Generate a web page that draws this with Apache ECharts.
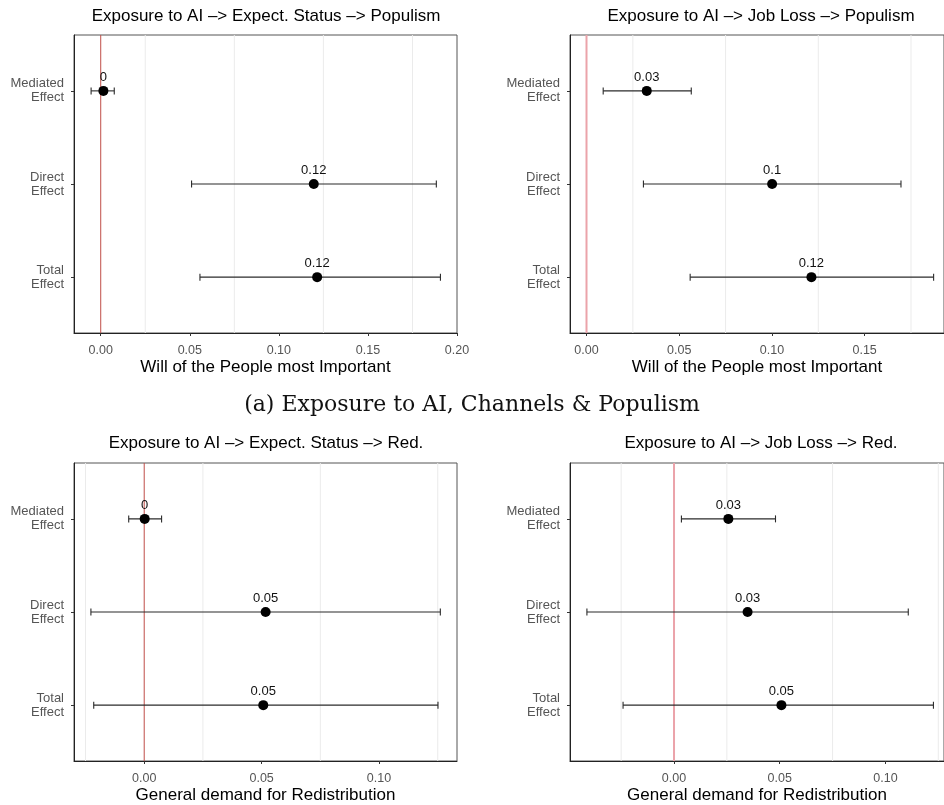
<!DOCTYPE html>
<html>
<head>
<meta charset="utf-8">
<script src="https://cdn.jsdelivr.net/npm/echarts@6/dist/echarts.min.js"></script>
<style>
  html, body { margin: 0; padding: 0; background: #fff; }
  #chart { width: 944px; height: 805px; }
</style>
</head>
<body>
<div id="chart"></div>
<script>
// rows of every panel
const effectLabels = ["Mediated\nEffect", "Direct\nEffect", "Total\nEffect"];
const effectRows = [1, 2, 3];

const panelTitles = [
  "Exposure to AI –> Expect. Status –> Populism",
  "Exposure to AI –> Job Loss –> Populism",
  "Exposure to AI –> Expect. Status –> Red.",
  "Exposure to AI –> Job Loss –> Red.",
];
const outcomeNames = [
  "Will of the People most Important",
  "Will of the People most Important",
  "General demand for Redistribution",
  "General demand for Redistribution",
];
const captionText = "(a) Exposure to AI, Channels & Populism";

// point estimates and 95% CI (mediated, direct, total)
const estStatusPop = [0.0015, 0.1196, 0.1215];
const lowStatusPop = [-0.0054, 0.0510, 0.0557];
const highStatusPop = [0.0076, 0.1884, 0.1907];

const estJobPop = [0.0325, 0.1001, 0.1213];
const lowJobPop = [0.0090, 0.0307, 0.0559];
const highJobPop = [0.0565, 0.1696, 0.1872];

const estStatusRed = [0.0002, 0.0517, 0.0507];
const lowStatusRed = [-0.0066, -0.0227, -0.0215];
const highStatusRed = [0.0074, 0.1261, 0.1251];

const estJobRed = [0.0257, 0.0348, 0.0508];
const lowJobRed = [0.0035, -0.0412, -0.0241];
const highJobRed = [0.0480, 0.1108, 0.1227];

// axis ticks
const ticksStatusPop = [0, 0.05, 0.10, 0.15, 0.20];
const ticksJobPop = [0, 0.05, 0.10, 0.15];
const ticksRed = [0, 0.05, 0.10];
const minorPop = [0.025, 0.075, 0.125, 0.175];
const minorRed = [-0.025, 0.025, 0.075, 0.125];
const zeroLine = [0];

const panels = [
  { est: estStatusPop, low: lowStatusPop, high: highStatusPop, ticks: ticksStatusPop, minor: minorPop,
    xmin: -0.015, xmax: 0.2, grid: { left: 74, top: 35, width: 383, height: 298 },
    titleX: 266, titleY: 16, zero: { color: "#bf4d47", width: 1 } },
  { est: estJobPop, low: lowJobPop, high: highJobPop, ticks: ticksJobPop, minor: minorPop,
    xmin: -0.0089, xmax: 0.1928, grid: { left: 570, top: 35, width: 376, height: 298 },
    titleX: 761, titleY: 16, zero: { color: "#eba3aa", width: 2 } },
  { est: estStatusRed, low: lowStatusRed, high: highStatusRed, ticks: ticksRed, minor: minorRed,
    xmin: -0.0299, xmax: 0.1332, grid: { left: 74, top: 463, width: 383, height: 299 },
    titleX: 266, titleY: 443, zero: { color: "#bf4d47", width: 1 } },
  { est: estJobRed, low: lowJobRed, high: highJobRed, ticks: ticksRed, minor: minorRed,
    xmin: -0.0492, xmax: 0.1277, grid: { left: 570, top: 463, width: 376, height: 299 },
    titleX: 761, titleY: 443, zero: { color: "#eba3aa", width: 2 } },
];

const FONT = "Liberation Sans, Arial, sans-serif";

function vLine(color, width) {
  return (params, api) => {
    const a = api.coord([api.value(0), 0.4]);
    const b = api.coord([api.value(0), 3.6]);
    return {
      type: "line",
      shape: { x1: a[0], y1: a[1], x2: b[0], y2: b[1] },
      style: { stroke: color, lineWidth: width },
    };
  };
}

function errorBar(params, api) {
  const row = api.value(0);
  const lo = api.coord([api.value(1), row]);
  const hi = api.coord([api.value(2), row]);
  const cap = 3.5;
  const style = { stroke: "#2b2b2b", lineWidth: 1.1 };
  return {
    type: "group",
    children: [
      { type: "line", shape: { x1: lo[0], y1: lo[1], x2: hi[0], y2: hi[1] }, style },
      { type: "line", shape: { x1: lo[0], y1: lo[1] - cap, x2: lo[0], y2: lo[1] + cap }, style },
      { type: "line", shape: { x1: hi[0], y1: hi[1] - cap, x2: hi[0], y2: hi[1] + cap }, style },
    ],
  };
}

const grid = [], xAxis = [], yAxis = [], series = [], graphic = [];

panels.forEach((p, i) => {
  grid.push({ ...p.grid, show: true, borderColor: "#555", borderWidth: 1, containLabel: false });

  xAxis.push({
    type: "value",
    gridIndex: i,
    min: p.xmin,
    max: p.xmax,
    name: outcomeNames[i],
    nameLocation: "middle",
    nameGap: 26,
    nameTextStyle: { color: "#000", fontSize: 17, fontFamily: FONT },
    axisLine: { show: true, onZero: false, lineStyle: { color: "#222" } },
    axisTick: { show: true, length: 3, customValues: p.ticks, lineStyle: { color: "#333" } },
    axisLabel: {
      customValues: p.ticks,
      color: "#555",
      fontSize: 12.5,
      fontFamily: FONT,
      margin: 11,
      formatter: (v) => v.toFixed(2),
    },
    splitLine: { show: false },
  });

  yAxis.push({
    type: "value",
    gridIndex: i,
    min: 0.4,
    max: 3.6,
    inverse: true,
    axisLine: { show: true, onZero: false, lineStyle: { color: "#222" } },
    axisTick: { show: true, length: 3, customValues: effectRows, lineStyle: { color: "#333" } },
    axisLabel: {
      customValues: effectRows,
      color: "#555",
      fontSize: 13,
      lineHeight: 14,
      fontFamily: FONT,
      align: "right",
      margin: 10,
      padding: [4, 0, 0, 0],
      formatter: (v) => effectLabels[Math.round(v) - 1],
    },
    splitLine: { show: false },
  });

  series.push({
    type: "custom",
    xAxisIndex: i,
    yAxisIndex: i,
    silent: true,
    z: 1,
    renderItem: vLine("#ebebeb", 1),
    encode: { x: 0 },
    data: p.minor.map((v) => [v]),
  });
  series.push({
    type: "custom",
    xAxisIndex: i,
    yAxisIndex: i,
    silent: true,
    z: 2,
    renderItem: vLine(p.zero.color, p.zero.width),
    encode: { x: 0 },
    data: zeroLine.map((v) => [v]),
  });
  series.push({
    type: "custom",
    xAxisIndex: i,
    yAxisIndex: i,
    silent: true,
    z: 3,
    renderItem: errorBar,
    encode: { y: 0, x: [1, 2] },
    data: effectRows.map((r, k) => [r, p.low[k], p.high[k]]),
  });
  series.push({
    type: "scatter",
    xAxisIndex: i,
    yAxisIndex: i,
    silent: true,
    z: 4,
    symbolSize: 10,
    itemStyle: { color: "#000", opacity: 1 },
    label: {
      show: true,
      position: "top",
      distance: 2,
      color: "#111",
      fontSize: 13,
      fontFamily: FONT,
      formatter: (d) => String(+d.value[0].toFixed(2)),
    },
    data: effectRows.map((r, k) => [p.est[k], r]),
  });

  graphic.push({
    type: "text",
    x: p.titleX,
    y: p.titleY,
    style: {
      text: panelTitles[i],
      fill: "#000",
      font: "17px " + FONT,
      textAlign: "center",
      textVerticalAlign: "middle",
    },
  });
});

graphic.push({
  type: "text",
  x: 472,
  y: 405,
  style: {
    text: captionText,
    fill: "#111",
    font: "22px DejaVu Serif, serif",
    textAlign: "center",
    textVerticalAlign: "middle",
  },
});

const chart = echarts.init(document.getElementById("chart"));
chart.setOption({
  animation: false,
  backgroundColor: "#fff",
  grid,
  xAxis,
  yAxis,
  series,
  graphic,
});
window.addEventListener("resize", () => chart.resize());
</script>
</body>
</html>
